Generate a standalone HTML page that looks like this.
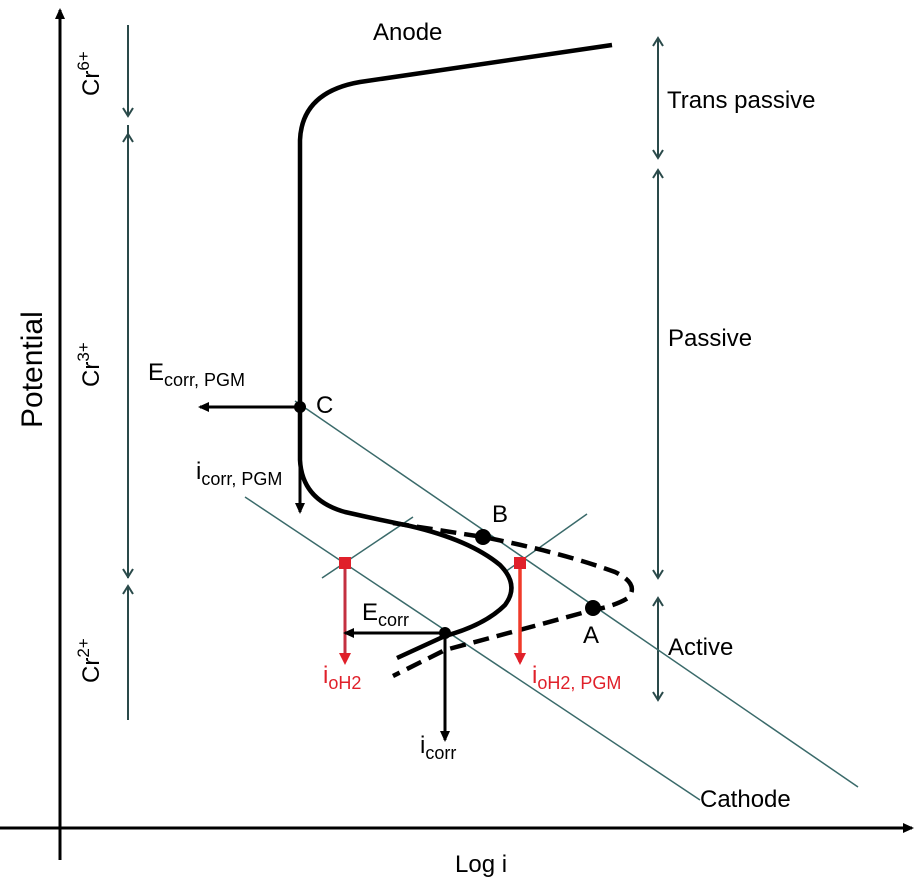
<!DOCTYPE html>
<html><head><meta charset="utf-8"><style>
html,body{margin:0;padding:0;background:#fff;}
svg{display:block;font-family:"Liberation Sans",Arial,sans-serif;}
</style></head><body>
<svg width="922" height="881" viewBox="0 0 922 881" xmlns="http://www.w3.org/2000/svg">
<defs>
<marker id="ah" markerWidth="12" markerHeight="12" refX="9" refY="6" orient="auto" markerUnits="userSpaceOnUse"><path d="M0,1 L11,6 L0,11 Z" fill="#000"/></marker>
<marker id="ar" markerWidth="14" markerHeight="14" refX="9" refY="7" orient="auto" markerUnits="userSpaceOnUse"><path d="M0,1 L12,7 L0,13 Z" fill="#e0202a"/></marker>
<marker id="av" markerWidth="12" markerHeight="12" refX="9" refY="6" orient="auto" markerUnits="userSpaceOnUse"><path d="M1,1 L9,6 L1,11" fill="none" stroke="#2a4a4a" stroke-width="2"/></marker>
</defs>
<line x1="60" y1="860" x2="60" y2="10" stroke="#000" stroke-width="3" marker-end="url(#ah)"/>
<line x1="0" y1="828" x2="912" y2="828" stroke="#000" stroke-width="3" marker-end="url(#ah)"/>
<g stroke="#2a4a4a" stroke-width="2" fill="none">
<line x1="128" y1="25" x2="128" y2="116" marker-end="url(#av)"/>
<line x1="128" y1="578" x2="128" y2="134" marker-end="url(#av)"/>
<line x1="128" y1="125" x2="128" y2="577" marker-end="url(#av)"/>
<line x1="128" y1="720" x2="128" y2="586" marker-end="url(#av)"/>
<line x1="658" y1="100" x2="658" y2="38" marker-end="url(#av)"/>
<line x1="658" y1="100" x2="658" y2="158" marker-end="url(#av)"/>
<line x1="658" y1="370" x2="658" y2="170" marker-end="url(#av)"/>
<line x1="658" y1="370" x2="658" y2="578" marker-end="url(#av)"/>
<line x1="658" y1="645" x2="658" y2="598" marker-end="url(#av)"/>
<line x1="658" y1="645" x2="658" y2="700" marker-end="url(#av)"/>
</g>
<g stroke="#3a6a6a" stroke-width="1.5">
<line x1="295" y1="401" x2="858" y2="787"/>
<line x1="245" y1="497" x2="700" y2="800"/>
<line x1="322" y1="578" x2="413" y2="517"/>
<line x1="505" y1="572" x2="587" y2="514"/>
</g>
<path d="M612,45 L360,82 Q302,92 300,140 L300,460 Q302,500 345,512 Q380,520 410,526 Q470,540 500,565 Q520,585 505,605 Q485,625 445,636 L397,658" fill="none" stroke="#000" stroke-width="4.5"/>
<path d="M393,523 L483,537 Q560,552 615,572 Q640,584 628,598 Q615,606 593,610 Q520,630 445,650 L393,676" fill="none" stroke="#000" stroke-width="4.5" stroke-dasharray="16,8"/>
<line x1="345" y1="563" x2="345" y2="662" stroke="#c43040" stroke-width="3" marker-end="url(#ar)"/>
<line x1="520" y1="563" x2="520" y2="662" stroke="#f03a2a" stroke-width="3.5" marker-end="url(#ar)"/>
<rect x="339" y="557" width="12" height="12" fill="#e0202a"/>
<rect x="514" y="557" width="12" height="12" fill="#e0202a"/>
<line x1="300" y1="407" x2="200" y2="407" stroke="#000" stroke-width="3" marker-end="url(#ah)"/>
<line x1="300" y1="407" x2="300" y2="512" stroke="#000" stroke-width="3" marker-end="url(#ah)"/>
<line x1="445" y1="633" x2="345" y2="633" stroke="#000" stroke-width="3" marker-end="url(#ah)"/>
<line x1="445" y1="633" x2="445" y2="740" stroke="#000" stroke-width="3" marker-end="url(#ah)"/>
<circle cx="300" cy="407" r="6" fill="#000"/>
<circle cx="483" cy="537" r="8" fill="#000"/>
<circle cx="593" cy="608" r="8" fill="#000"/>
<circle cx="445" cy="633" r="6" fill="#000"/>
<g font-size="24" fill="#000">
<text x="373" y="40">Anode</text>
<text x="667" y="108">Trans passive</text>
<text x="668" y="346">Passive</text>
<text x="668" y="655">Active</text>
<text x="700" y="807">Cathode</text>
<text x="455" y="872">Log i</text>
<text x="316" y="413">C</text>
<text x="492" y="522">B</text>
<text x="583" y="643">A</text>
<text x="148" y="380">E<tspan font-size="18" dy="6">corr, PGM</tspan></text>
<text x="196" y="479">i<tspan font-size="18" dy="6">corr, PGM</tspan></text>
<text x="362" y="620">E<tspan font-size="18" dy="6">corr</tspan></text>
<text x="420" y="753">i<tspan font-size="18" dy="6">corr</tspan></text>
<text x="323" y="683" fill="#e0202a">i<tspan font-size="18" dy="6">oH2</tspan></text>
<text x="532" y="683" fill="#e0202a">i<tspan font-size="18" dy="6">oH2, PGM</tspan></text>
<text transform="translate(42,428) rotate(-90)" font-size="30">Potential</text>
<text transform="translate(99,96) rotate(-90)">Cr<tspan font-size="17" dy="-10">6+</tspan></text>
<text transform="translate(99,387) rotate(-90)">Cr<tspan font-size="17" dy="-10">3+</tspan></text>
<text transform="translate(99,683) rotate(-90)">Cr<tspan font-size="17" dy="-10">2+</tspan></text>
</g>
</svg>
</body></html>
